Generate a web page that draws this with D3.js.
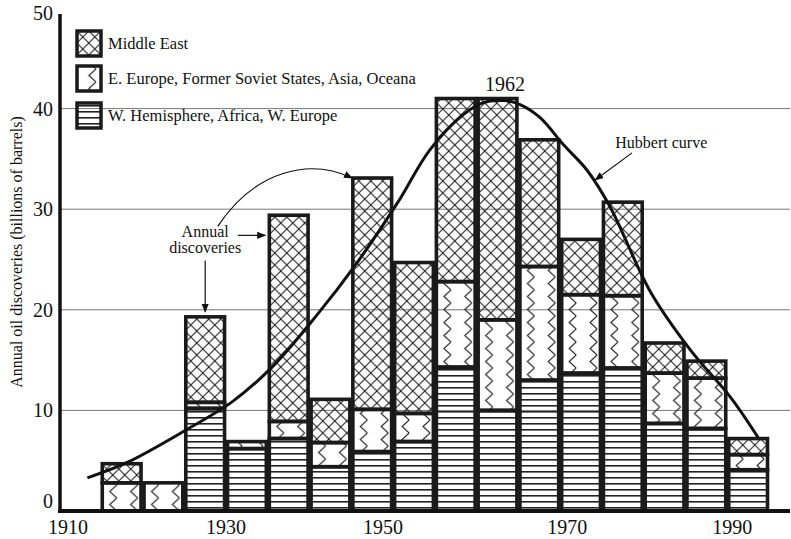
<!DOCTYPE html>
<html>
<head>
<meta charset="utf-8">
<script src="https://cdn.jsdelivr.net/npm/d3@7"></script>
<style>
  body { margin: 0; background: #fff; }
  svg { display: block; font-family: "Liberation Serif", "DejaVu Serif", serif; }
</style>
</head>
<body>
<svg id="chart" width="791" height="539"></svg>
<script>
// data (billions of barrels, 5-year bins)
const years          = [1915,1920,1925,1930,1935,1940,1945,1950,1955,1960,1965,1970,1975,1980,1985,1990];
const westHemisphere = [0,   0,   10.2,6.2, 7.2, 4.4, 5.9, 6.9, 14.3,10.0,13.0,13.7,14.2,8.7, 8.2, 4.1];
const eastEurope     = [2.8, 2.8, 0.6, 0.7, 1.7, 2.4, 4.2, 2.8, 8.5, 9.0, 11.3,7.8, 7.2, 5.0, 5.0, 1.5];
const middleEast     = [1.9, 0,   8.5, 0,   20.5,4.3, 23.0,15.0,18.2,22.0,12.6,5.5, 9.3, 3.0, 1.7, 1.6];

// hubbert curve, points [year, value]
const hubbertYears  = [1913.4,1918.1,1925.3,1930.8,1935.5,1940.7,1945.7,1950.5,1954.4,1958.4,1960.8,1963.2,1965.2,1967.6,1970.4,1973.2,1976.0,1980.8,1985.6,1990.4,1993.7];
const hubbertValues = [3.3,   4.8,   8.1,   10.9,  14.3,  19.3,  24.7,  30.6,  35.9,  39.4,  40.6,  40.8,  40.4,  39.1,  36.4,  33.9,  30.2,  21.8,  16.0,  11.3,  7.3];

const yTicks = [0,10,20,30,40,50];
const xTicks = [1910,1930,1950,1970,1990];
const seriesKeys   = ['west','east','mideast'];
const legendLabels = ['Middle East','E. Europe, Former Soviet States, Asia, Oceana','W. Hemisphere, Africa, W. Europe'];
const binWidth = 5;

const svg = d3.select('#chart');
const x = d3.scaleLinear().domain([1910, 1995]).range([59, 769]);
const y = d3.scaleLinear().domain([0, 50]).range([511, 8]);

// patterns
const defs = svg.append('defs');
const cw = x(1920) - x(1915);
const cross = defs.append('pattern').attr('id','pME').attr('patternUnits','userSpaceOnUse')
  .attr('width',12).attr('height',12).attr('x',x(1915)).attr('y',y(0));
cross.append('path').attr('d','M0,0L12,12M12,0L0,12M-1,11L1,13M11,-1L13,1')
  .attr('stroke','#222').attr('stroke-width',1.1).attr('fill','none');

const zig = defs.append('pattern').attr('id','pEE').attr('patternUnits','userSpaceOnUse')
  .attr('width',cw/2).attr('height',13).attr('x',x(1915)).attr('y',y(0));
zig.append('path').attr('d','M16,0L9,6.5L16,13')
  .attr('stroke','#222').attr('stroke-width',1.1).attr('fill','none');

const stripes = defs.append('pattern').attr('id','pWH').attr('patternUnits','userSpaceOnUse')
  .attr('width',20).attr('height',6).attr('x',0).attr('y',y(0));
stripes.append('rect').attr('x',0).attr('y',2).attr('width',20).attr('height',1.6).attr('fill','#222');

const fills = {west:'url(#pWH)', east:'url(#pEE)', mideast:'url(#pME)'};

defs.append('marker').attr('id','arrow').attr('viewBox','0 0 10 10')
  .attr('refX',9).attr('refY',5).attr('markerWidth',9).attr('markerHeight',9)
  .attr('orient','auto-start-reverse').attr('markerUnits','userSpaceOnUse')
  .append('path').attr('d','M0,1L10,5L0,9z').attr('fill','#111');

// gridlines
svg.append('g').selectAll('line').data([10,20,30,40]).join('line')
  .attr('x1', 60).attr('x2', 790)
  .attr('y1', d => y(d)).attr('y2', d => y(d))
  .attr('stroke','#777').attr('stroke-width',1);

// stacked bars
const table = years.map((yr,i) => ({year: yr, west: westHemisphere[i], east: eastEurope[i], mideast: middleEast[i]}));
const stacked = d3.stack().keys(seriesKeys)(table);

svg.append('g').selectAll('g').data(stacked).join('g')
  .attr('fill', d => fills[d.key])
  .selectAll('rect').data(d => d.filter(s => s[1] - s[0] > 0)).join('rect')
    .attr('x', d => x(d.data.year) + 1.5)
    .attr('width', d => x(d.data.year + binWidth) - x(d.data.year) - 3)
    .attr('y', d => y(d[1]))
    .attr('height', d => y(d[0]) - y(d[1]))
    .attr('stroke','#1a1a1a').attr('stroke-width',3.6);

// axes
svg.append('line').attr('x1',60).attr('x2',60).attr('y1',y(49.4)).attr('y2',y(0)+2)
  .attr('stroke','#111').attr('stroke-width',3.5);
svg.append('line').attr('x1',58).attr('x2',790).attr('y1',y(0)).attr('y2',y(0))
  .attr('stroke','#111').attr('stroke-width',4);

// the printed labels sit a little off the exact tick positions
const yLabelNudge = {0: -10, 50: 5};
const xLabelNudge = {1910: 9, 1950: -10, 1970: 7, 1990: 5};
svg.append('g').selectAll('text').data(yTicks).join('text')
  .attr('x', 53).attr('y', d => y(d) + (yLabelNudge[d] || 0))
  .attr('dy','0.35em').attr('text-anchor','end')
  .attr('font-size',20).attr('fill','#111').text(d => d);

svg.append('g').selectAll('text').data(xTicks).join('text')
  .attr('x', d => x(d) + (xLabelNudge[d] || 0)).attr('y', 534)
  .attr('text-anchor','middle').attr('font-size',20).attr('fill','#111').text(d => d);

svg.append('text')
  .attr('transform','translate(22,252) rotate(-90)')
  .attr('text-anchor','middle').attr('font-size',16).attr('fill','#111')
  .text('Annual oil discoveries (billions of barrels)');

// hubbert curve
const hubbert = hubbertYears.map((yr,i) => [yr, hubbertValues[i]]);
svg.append('path').datum(hubbert)
  .attr('d', d3.line().x(d => x(d[0])).y(d => y(d[1])).curve(d3.curveCatmullRom))
  .attr('fill','none').attr('stroke','#111').attr('stroke-width',3);

// annotations
const ann = svg.append('g').attr('fill','#111').attr('font-size',16);
ann.append('text').attr('x', x(1963.4)).attr('y', y(41.75)).attr('text-anchor','middle')
  .attr('font-size',20).text('1962');
ann.append('text').attr('x', x(1976.6)).attr('y', y(36.1)).text('Hubbert curve');
ann.append('text').attr('x', x(1927.5)).attr('y', y(27.2)).attr('text-anchor','middle').text('Annual');
ann.append('text').attr('x', x(1927.5)).attr('y', y(25.6)).attr('text-anchor','middle').text('discoveries');

const arrows = [
  [[1978.6,35.6],[1974.2,32.9]],
  [[1931.4,27.4],[1934.7,27.4]],
  [[1927.5,24.9],[1927.5,19.8]]
];
svg.append('g').selectAll('line').data(arrows).join('line')
  .attr('x1', d => x(d[0][0])).attr('y1', d => y(d[0][1]))
  .attr('x2', d => x(d[1][0])).attr('y2', d => y(d[1][1]))
  .attr('stroke','#111').attr('stroke-width',1.2).attr('marker-end','url(#arrow)');

const bend = [[1929.0,28.3],[1933.5,33.9],[1940.0,35.1],[1945.1,33.1]];
svg.append('path')
  .attr('d', `M${x(bend[0][0])},${y(bend[0][1])}C${bend.slice(1).map(p => x(p[0]) + ',' + y(p[1])).join(' ')}`)
  .attr('fill','none').attr('stroke','#111').attr('stroke-width',1.2).attr('marker-end','url(#arrow)');

// legend
const legendFills = ['url(#pME)','url(#pEE)','url(#pWH)'];
const legendTop = [31, 66, 103];
const lg = svg.append('g');
lg.selectAll('rect').data(legendLabels).join('rect')
  .attr('x', 77).attr('y', (d,i) => legendTop[i]).attr('width', 24).attr('height', 25)
  .attr('fill', (d,i) => legendFills[i]).attr('stroke','#1a1a1a').attr('stroke-width',3.5);
lg.selectAll('text').data(legendLabels).join('text')
  .attr('x', 108).attr('y', (d,i) => legendTop[i] + 12.5).attr('dy','0.35em')
  .attr('font-size',16.5).attr('fill','#111').text(d => d);
</script>
</body>
</html>
